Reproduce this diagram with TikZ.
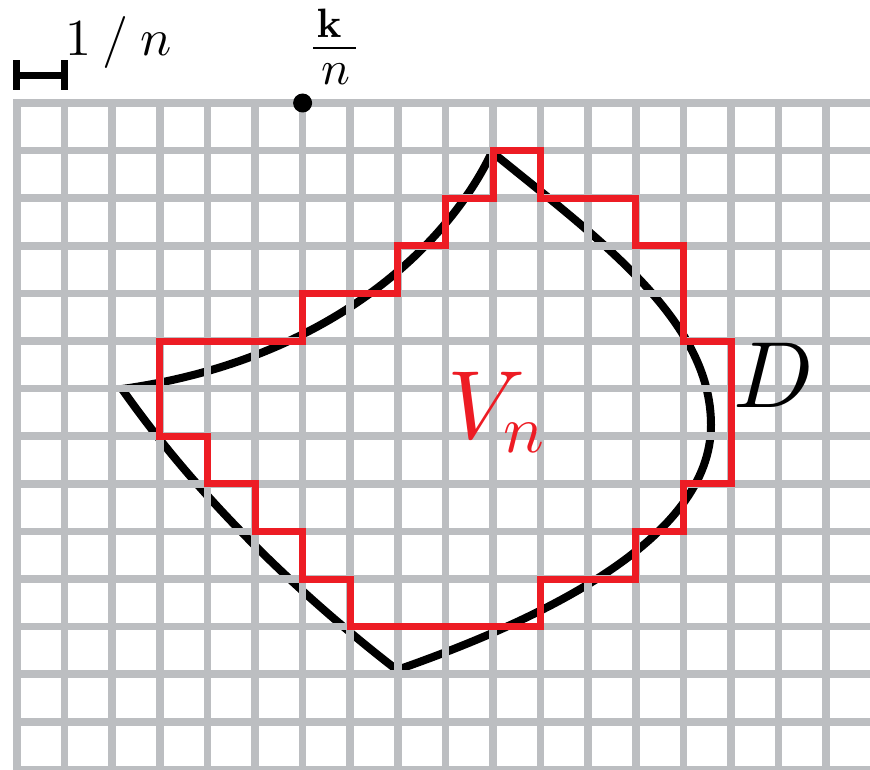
\RequirePackage{fix-cm}
\documentclass[tikz,border=0pt]{standalone}
\DeclareFontShape{OML}{cmm}{m}{it}{<->cmmi10}{}
\DeclareFontShape{OT1}{cmr}{m}{n}{<->cmr10}{}
\DeclareFontShape{OT1}{cmr}{bx}{n}{<->cmbx10}{}
\definecolor{gridgray}{RGB}{188,190,193}
\definecolor{vred}{RGB}{237,28,36}
\tikzset{
  gridline/.style={draw=gridgray, line width=7.5pt},
  curveD/.style={draw=black, line width=8pt, line join=miter},
  vnpath/.style={draw=vred, line width=7pt, line join=miter},
  scalebar/.style={draw=black, line width=7.5pt},
  lbl/.style={inner sep=0pt, outer sep=0pt}
}
\begin{document}
\begin{tikzpicture}[x=1pt,y=-1pt]
\useasboundingbox (0,0) rectangle (870,770);
\clip (0,0) rectangle (870,770);

% the domain D
\coordinate (L) at (122,389);
\coordinate (T) at (492,152);
\coordinate (P) at (711,425);
\coordinate (B) at (397,670);
\draw[curveD] (L) .. controls (330,360) and (448,245) .. (T)
  .. controls (600,240) and (711,320) .. (P)
  .. controls (711,540) and (540,620) .. (B)
  .. controls (300,595) and (200,500) .. cycle;

% grid and V_n in grid units
\begin{scope}[shift={(17,103)}, x=47.6pt, y=-47.6pt]
  \foreach \i in {0,...,18} \draw[gridline] (\i,-0.08) -- (\i,15);
  \foreach \j in {0,...,14} \draw[gridline] (-0.08,\j) -- (19,\j);
  \draw[vnpath] (10,1) -- (11,1) -- (11,2) -- (13,2) -- (13,3) -- (14,3) -- (14,5)
    -- (15,5) -- (15,8) -- (14,8) -- (14,9) -- (13,9) -- (13,10) -- (11,10)
    -- (11,11) -- (7,11) -- (7,10) -- (6,10) -- (6,9) -- (5,9) -- (5,8) -- (4,8)
    -- (4,7) -- (3,7) -- (3,5) -- (6,5) -- (6,4) -- (8,4) -- (8,3) -- (9,3)
    -- (9,2) -- (10,2) -- cycle;
  \coordinate (kpt) at (6,0);
\end{scope}
\fill[black] (kpt) circle[radius=9.5pt];

% scale bar 1/n
\coordinate (sbL) at (16.5,75.5);
\coordinate (sbR) at (64.5,75.5);
\draw[scalebar] ([yshift=15pt]sbL) -- ([yshift=-14.5pt]sbL);
\draw[scalebar] ([yshift=15pt]sbR) -- ([yshift=-14.5pt]sbR);
\draw[scalebar] (sbL) -- (sbR);

% labels
\node[lbl, anchor=base west, font=\fontsize{52}{62}\selectfont] (onen) at (65,56) {$1\mskip4mu/\mskip4mu n$};
\node[lbl, anchor=base, font=\fontsize{41}{49}\selectfont] (knum) at (329,38) {$\mathbf{k}$};
\coordinate (barL) at (313,48);
\coordinate (barR) at (356,48);
\draw[line width=2.6pt] (barL) -- (barR);
\node[lbl, anchor=base, font=\fontsize{48}{58}\selectfont] (kden) at (336,85) {$n$};
\node[lbl, anchor=base west, text=vred, font=\fontsize{97}{116}\selectfont] (vn) at (447,438) {$V_n$};
\node[lbl, anchor=base west, font=\fontsize{94}{113}\selectfont] (dlabel) at (733,407) {$D$};
\end{tikzpicture}
\end{document}
